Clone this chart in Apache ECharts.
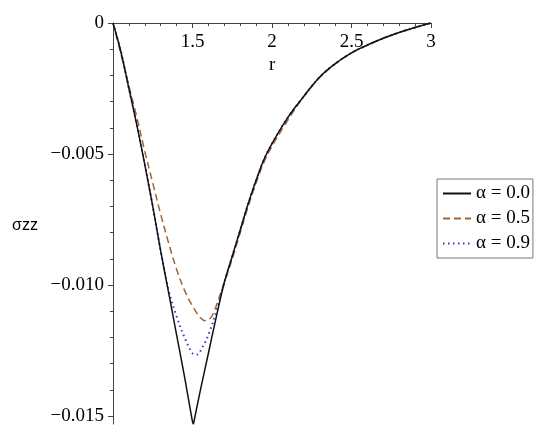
<!DOCTYPE html>
<html>
<head>
<meta charset="utf-8">
<script src="https://cdn.jsdelivr.net/npm/echarts@6/dist/echarts.min.js"></script>
<style>
  html, body { margin: 0; padding: 0; background: #fff; }
  #chart { width: 550px; height: 439px; }
</style>
</head>
<body>
<div id="chart"></div>
<script>
// alpha = 0.0 (solid black)
var rA0 = [1.0, 1.05, 1.1, 1.15, 1.2, 1.25, 1.3, 1.35, 1.4, 1.45, 1.495, 1.505, 1.515, 1.55, 1.6, 1.65, 1.7, 1.75, 1.8, 1.85, 1.9, 1.95, 2.0, 2.1, 2.2, 2.3, 2.4, 2.5, 2.6, 2.7, 2.8, 2.9, 3.0];
var sA0 = [0, -0.0011, -0.0025, -0.0039, -0.0054, -0.0070, -0.0087, -0.0103, -0.0119, -0.0135, -0.01505, -0.0153, -0.01503, -0.0140, -0.0126, -0.0112, -0.0099, -0.0089, -0.0079, -0.0069, -0.0060, -0.0052, -0.0046, -0.0036, -0.0028, -0.00206, -0.00154, -0.00114, -0.00084, -0.00058, -0.00036, -0.00017, 0];

// alpha = 0.5 (dashed brown)
var rA5 = [1.0, 1.05, 1.1, 1.15, 1.2, 1.25, 1.3, 1.35, 1.4, 1.45, 1.5, 1.55, 1.58, 1.62, 1.66, 1.7, 1.75, 1.8, 1.85, 1.9, 1.95, 2.0, 2.1, 2.2, 2.3, 2.4, 2.5, 2.6, 2.7, 2.8, 2.9, 3.0];
var sA5 = [0, -0.0012, -0.0024, -0.0036, -0.0049, -0.0061, -0.0073, -0.0084, -0.0094, -0.0102, -0.0108, -0.01125, -0.01136, -0.0112, -0.0106, -0.0099, -0.0090, -0.0080, -0.0070, -0.0061, -0.0053, -0.0047, -0.0037, -0.0028, -0.00208, -0.00155, -0.00115, -0.00085, -0.00058, -0.00036, -0.00017, 0];

// alpha = 0.9 (dotted blue)
var rA9 = [1.0, 1.05, 1.1, 1.15, 1.2, 1.25, 1.3, 1.35, 1.4, 1.45, 1.5, 1.53, 1.56, 1.6, 1.65, 1.7, 1.75, 1.8, 1.85, 1.9, 1.95, 2.0, 2.1, 2.2, 2.3, 2.4, 2.5, 2.6, 2.7, 2.8, 2.9, 3.0];
var sA9 = [0, -0.0011, -0.0025, -0.0039, -0.0054, -0.0070, -0.0087, -0.0102, -0.0112, -0.0120, -0.0126, -0.01265, -0.0124, -0.0119, -0.0110, -0.0099, -0.0089, -0.0079, -0.0069, -0.0060, -0.0052, -0.0046, -0.0036, -0.0028, -0.00206, -0.00154, -0.00114, -0.00084, -0.00058, -0.00036, -0.00017, 0];

var names = ['α = 0.0', 'α = 0.5', 'α = 0.9'];
var yMajor = [0, -0.005, -0.010, -0.015];
var yMinor = [-0.001, -0.002, -0.003, -0.004, -0.006, -0.007, -0.008, -0.009, -0.011, -0.012, -0.013, -0.014];

function pairs(xs, ys) {
  return xs.map(function (x, i) { return [x, ys[i]]; });
}

var chart = echarts.init(document.getElementById('chart'));
var serif = 'Liberation Serif';

var option = {
  backgroundColor: '#fff',
  animation: false,
  grid: { left: 113, right: 119, top: 23, bottom: 15 },
  legend: {
    orient: 'vertical',
    left: 437,
    top: 179,
    padding: [5, 3, 5, 5],
    itemGap: 6,
    itemWidth: 28,
    itemHeight: 14,
    borderColor: '#777',
    borderWidth: 1,
    itemStyle: { color: 'transparent', borderColor: 'transparent', borderWidth: 0, opacity: 0 },
    textStyle: { fontFamily: serif, fontSize: 19, color: '#000' },
    data: names
  },
  xAxis: {
    type: 'value',
    position: 'top',
    min: 1,
    max: 3,
    interval: 0.5,
    axisLine: { onZero: false, lineStyle: { color: '#444', width: 1 } },
    axisTick: { inside: true, length: 5, lineStyle: { color: '#444' } },
    minorTick: { show: true, splitNumber: 5, length: 3, lineStyle: { color: '#444' } },
    axisLabel: {
      inside: true,
      margin: 10,
      fontFamily: serif,
      fontSize: 19,
      color: '#000',
      formatter: function (v) { return v === 1 ? '' : String(v); }
    },
    splitLine: { show: false }
  },
  yAxis: [{
    type: 'value',
    min: -0.0153,
    max: 0,
    axisLine: { show: true, lineStyle: { color: '#444', width: 1 } },
    axisTick: { show: true, length: 5, customValues: yMajor, lineStyle: { color: '#444' } },
    axisLabel: {
      margin: 9,
      fontFamily: serif,
      fontSize: 19,
      color: '#000',
      customValues: yMajor,
      formatter: function (v) { return v === 0 ? '0' : '\u2212' + Math.abs(v).toFixed(3); }
    },
    splitLine: { show: false }
  }, {
    type: 'value',
    position: 'left',
    min: -0.0153,
    max: 0,
    axisLine: { show: false },
    axisTick: { show: true, length: 3, customValues: yMinor, lineStyle: { color: '#444' } },
    axisLabel: { show: false },
    splitLine: { show: false }
  }],
  graphic: [
    { type: 'text', left: 269, top: 56, style: { text: 'r', font: '19px "Liberation Serif"', fill: '#000' } },
    { type: 'text', left: 12, top: 218, style: { text: 'σzz', font: '16px "Liberation Sans"', fill: '#000' } }
  ],
  series: [{
    name: names[0],
    type: 'line',
    showSymbol: false,
    symbol: 'none',
    smooth: 0.35,
    z: 4,
    data: pairs(rA0, sA0),
    lineStyle: { color: '#111', width: 1.5, type: 'solid' },
    itemStyle: { color: '#111' }
  }, {
    name: names[1],
    type: 'line',
    showSymbol: false,
    symbol: 'none',
    smooth: 0.35,
    z: 2,
    data: pairs(rA5, sA5),
    lineStyle: { color: '#a0652e', width: 1.5, type: [7, 4] },
    itemStyle: { color: '#a0652e' }
  }, {
    name: names[2],
    type: 'line',
    showSymbol: false,
    symbol: 'none',
    smooth: 0.35,
    z: 3,
    data: pairs(rA9, sA9),
    lineStyle: { color: '#3a3ac8', width: 2, type: [1.5, 3.5] },
    itemStyle: { color: '#3a3ac8' }
  }]
};

chart.setOption(option);
</script>
</body>
</html>
